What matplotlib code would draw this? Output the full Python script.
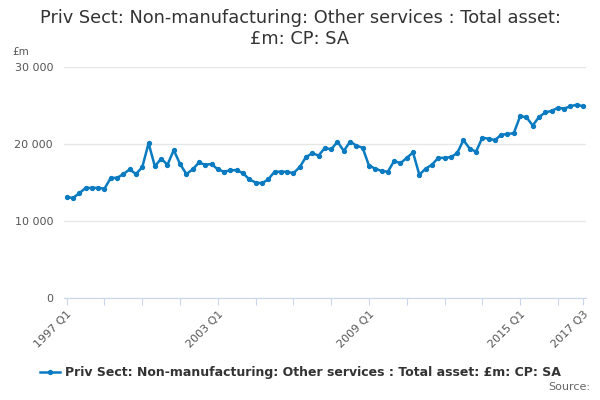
import numpy as np
from matplotlib import pyplot as plt
from matplotlib.lines import Line2D

# quarterly values, 1997 Q1 .. 2017 Q3 (£m)
years = list(range(1997, 2018))
quarters = [f'{y} Q{q}' for y in years for q in range(1, 5)][:83]
values = [13100, 13000, 13600, 14300, 14300, 14300, 14200, 15600, 15600, 16100,
          16700, 16100, 17000, 20100, 17100, 18100, 17300, 19200, 17400, 16100,
          16700, 17600, 17300, 17400, 16700,
          16400, 16600, 16600, 16200, 15400, 15000, 14900, 15400, 16400, 16400,
          16400, 16200, 17000, 18300, 18800, 18500, 19500, 19300, 20300, 19100,
          20300, 19800, 19500, 17200, 16800, 16500, 16400, 17800, 17500,
          18200, 18900, 16000, 16800, 17300, 18200, 18200, 18300, 18800, 20500,
          19400, 19000, 20800, 20700, 20500, 21200, 21300, 21400, 23600, 23500,
          22400, 23500, 24100, 24300, 24700, 24600, 24900, 25100, 24900]
label_quarters = ['1997 Q1', '2003 Q1', '2009 Q1', '2015 Q1', '2017 Q3']
yticks = [0, 10000, 20000, 30000]
series_name = 'Priv Sect: Non-manufacturing: Other services : Total asset: £m: CP: SA'

blue = '#0b7bc1'
x = np.arange(len(values))

fig = plt.figure(figsize=(6, 4), dpi=100)
ax = fig.add_axes([0.107, 0.255, 0.870, 0.5775])

ax.plot(x, values, color=blue, lw=1.8, marker='o', ms=2.8)

ax.set_xlim(-0.4, 82.5)
ax.set_ylim(0, 30000)
ax.set_yticks(yticks)
ax.set_yticklabels([f'{v:,}'.replace(',', ' ') for v in yticks])
ax.grid(axis='y', color='#e6e6e6', lw=1)
ax.set_axisbelow(True)

# tick marks every 6 quarters, labels only on a few
tick_pos = list(range(0, len(values), 6)) + [len(values) - 1]
ax.set_xticks(tick_pos)
ax.set_xticklabels([quarters[i] if quarters[i] in label_quarters else '' for i in tick_pos],
                   rotation=45, ha='right', rotation_mode='anchor')
ax.tick_params(axis='x', length=5, color='#ccd6eb', labelsize=8, labelcolor='#555555', pad=3)
ax.tick_params(axis='y', length=0, labelsize=8, labelcolor='#555555', pad=8)

for s in ['top', 'right', 'left']:
    ax.spines[s].set_visible(False)
ax.spines['bottom'].set_color('#ccd6eb')

fig.text(0.5, 0.978, 'Priv Sect: Non-manufacturing: Other services : Total asset:\n£m: CP: SA',
         ha='center', va='top', fontsize=12.8, color='#333333', linespacing=1.2)
fig.text(0.02, 0.862, '£m', fontsize=7.5, color='#555555')

handle = Line2D([], [], color=blue, lw=1.8, marker='o', ms=2.8)
fig.legend([handle], [series_name], loc='center', bbox_to_anchor=(0.5, 0.068),
           frameon=False, handlelength=1.6, handletextpad=0.4,
           prop={'size': 9, 'weight': 'bold'}, labelcolor='#333333')
fig.text(0.983, 0.025, 'Source:', ha='right', fontsize=8, color='#666666')

plt.savefig('out.png')
